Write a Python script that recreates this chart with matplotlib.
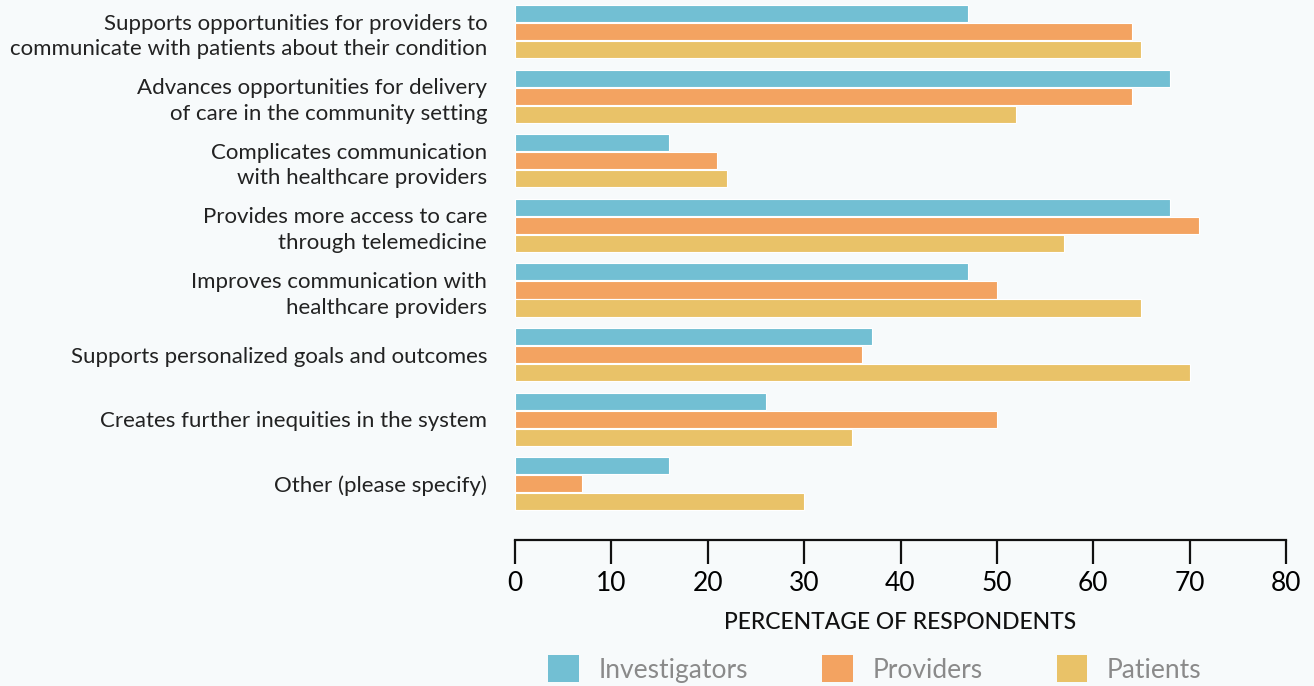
import numpy as np
import matplotlib.pyplot as plt
from matplotlib import font_manager
from matplotlib.patches import Patch

categories = [
    "Supports opportunities for providers to\ncommunicate with patients about their condition",
    "Advances opportunities for delivery\nof care in the community setting",
    "Complicates communication\nwith healthcare providers",
    "Provides more access to care\nthrough telemedicine",
    "Improves communication with\nhealthcare providers",
    "Supports personalized goals and outcomes",
    "Creates further inequities in the system",
    "Other (please specify)",
]
investigators = [47, 68, 16, 68, 47, 37, 26, 16]
providers = [64, 64, 21, 71, 50, 36, 50, 7]
patients = [65, 52, 22, 57, 65, 70, 35, 30]

series = ["Investigators", "Providers", "Patients"]
colors = ["#72bfd3", "#f3a361", "#e9c268"]
bg = "#f7fafb"

names = {f.name for f in font_manager.fontManager.ttflist}
body_font = "Lato" if "Lato" in names else "DejaVu Sans"

fig = plt.figure(figsize=(13.14, 6.86), dpi=100, facecolor=bg)
ax = fig.add_axes([515 / 1314, 1 - 540 / 686, 771 / 1314, 540 / 686])
ax.set_facecolor(bg)

y = np.arange(len(categories))
off = 0.279
h = 0.265
for k, vals in enumerate([investigators, providers, patients]):
    ax.barh(y + (k - 1) * off, vals, height=h, color=colors[k],
            edgecolor="white", linewidth=0.8)

ax.set_xlim(0, 80)
ax.set_ylim(7.87, -0.488)
ax.set_xticks(range(0, 81, 10))
ax.set_yticks(y)
ax.set_yticklabels(categories, fontsize=16, family=body_font,
                   color="#222222", linespacing=1.35)

for s in ["top", "right", "left"]:
    ax.spines[s].set_visible(False)
ax.spines["bottom"].set_linewidth(1.6)
ax.spines["bottom"].set_color("#111111")
ax.tick_params(axis="y", length=0, pad=20)
ax.tick_params(axis="x", length=17, width=1.6, color="#111111",
               labelsize=19, pad=5)
for lab in ax.get_xticklabels():
    lab.set_family(body_font)

ax.set_xlabel("PERCENTAGE OF RESPONDENTS", family=body_font,
              fontsize=16.5, fontweight="medium", color="#111111",
              labelpad=12)

handles = [Patch(facecolor=c, edgecolor="none") for c in colors]
leg = fig.legend(handles, series, loc="lower center", ncol=3,
                 bbox_to_anchor=(875 / 1314, -0.030), frameon=False,
                 handlelength=1.15, handleheight=1.2, handletextpad=0.76,
                 columnspacing=2.8, prop={"family": body_font, "size": 19})
for t in leg.get_texts():
    t.set_color("#8a8a8a")

fig.savefig("out.png", dpi=100, facecolor=bg)
